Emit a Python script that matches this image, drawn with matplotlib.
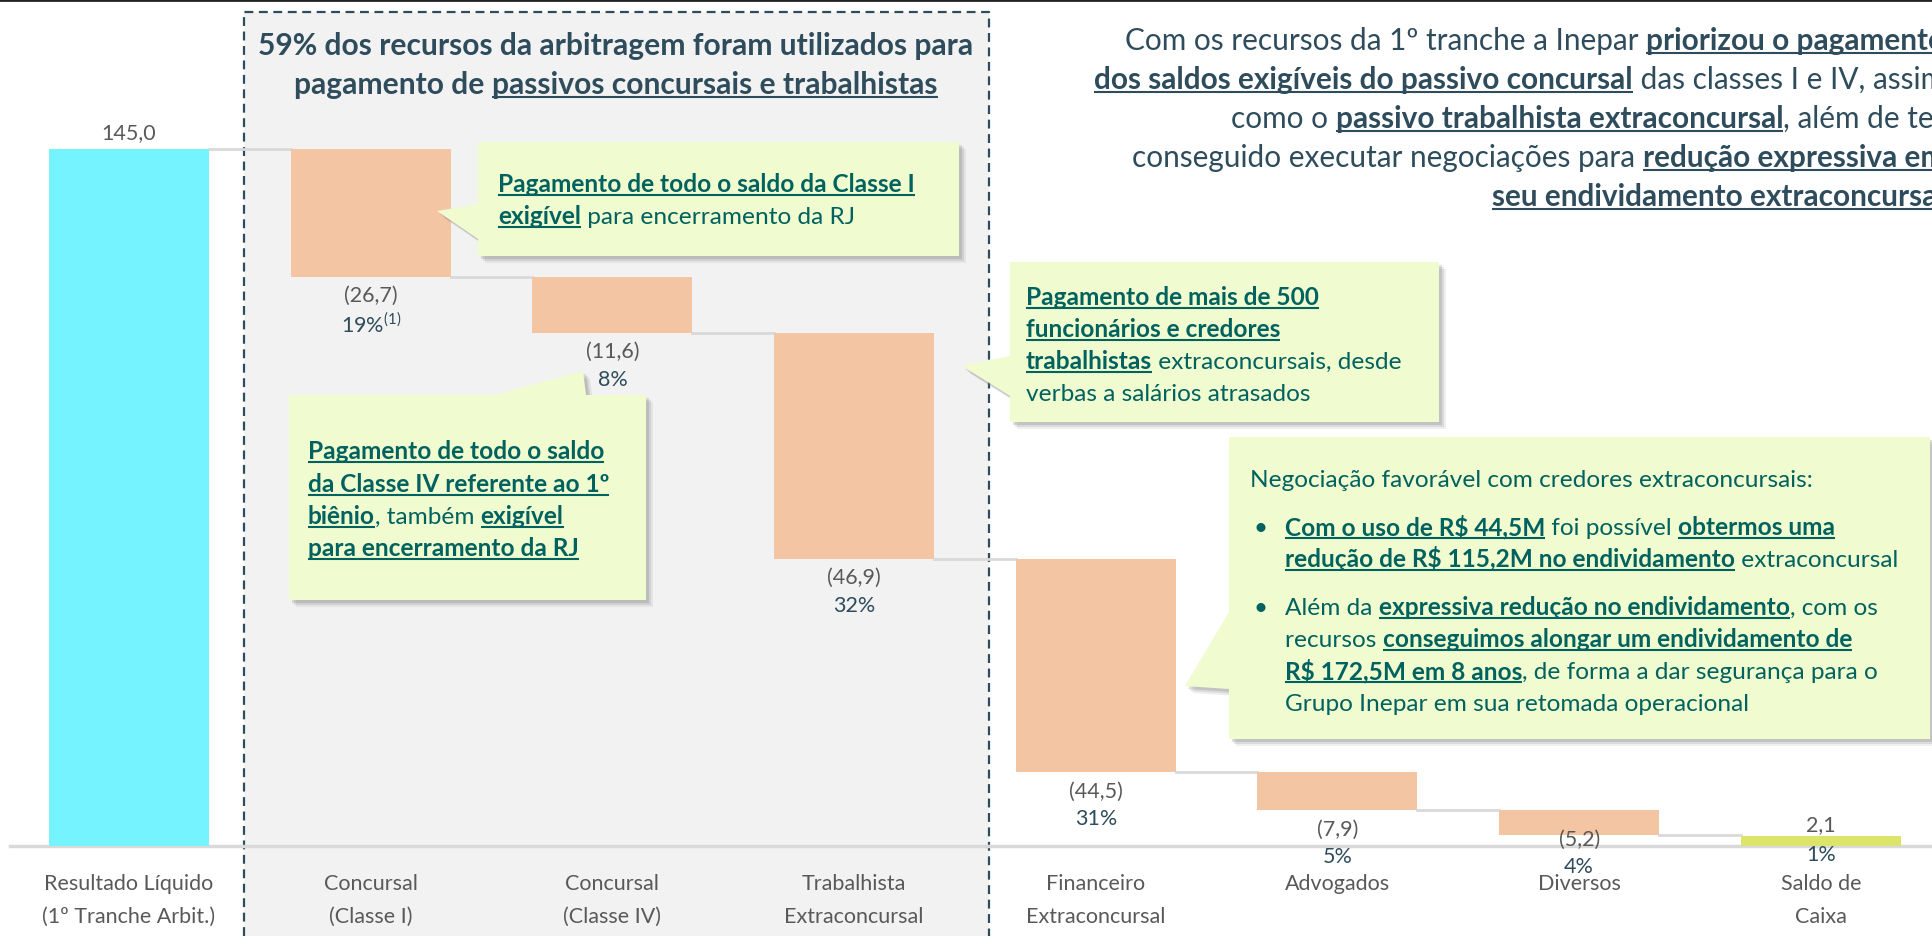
import matplotlib
matplotlib.use("Agg")
import matplotlib.pyplot as plt
from matplotlib.patches import Polygon, Rectangle

# chart data
categories = ["Resultado Líquido\n(1º Tranche Arbit.)", "Concursal\n(Classe I)", "Concursal\n(Classe IV)",
              "Trabalhista\nExtraconcursal", "Financeiro\nExtraconcursal", "Advogados", "Diversos",
              "Saldo de\nCaixa"]
values = [145.0, -26.7, -11.6, -46.9, -44.5, -7.9, -5.2, 2.1]
value_labels = ["145,0", "(26,7)", "(11,6)", "(46,9)", "(44,5)", "(7,9)", "(5,2)", "2,1"]
pct_labels = ["", "19%$^{(1)}$", "8%", "32%", "31%", "5%", "4%", "1%"]

W, H = 1933, 937
FONT = "Lato"
SLATE = "#2E4C5C"
TEAL = "#00625F"
GRAY = "#595959"

plt.rcParams["font.family"] = [FONT, "DejaVu Sans"]
plt.rcParams["mathtext.fontset"] = "custom"
plt.rcParams["mathtext.rm"] = FONT

fig = plt.figure(figsize=(W / 100, H / 100), dpi=100)
renderer = fig.canvas.get_renderer()

def pixel_axes(z):
    a = fig.add_axes([0, 0, 1, 1], zorder=z)
    a.set_xlim(0, W)
    a.set_ylim(H, 0)
    a.axis("off")
    a.patch.set_visible(False)
    return a

bg = pixel_axes(0)
ax = fig.add_axes([0, 0, 1, 1], zorder=1)
ax.patch.set_visible(False)
ax.axis("off")
ov = pixel_axes(2)

# shaded block + dashed frame
bg.add_patch(Rectangle((244, 13), 745, H, facecolor="#F2F2F2", edgecolor="none"))
bg.plot([244, 244, 989, 989], [H, 13, 13, H], color=SLATE, lw=1.6, ls=(0, (4, 2.5)))
bg.plot([0, W], [1, 1], color="#222222", lw=2)

# waterfall bars
ax.set_xlim(-0.534, 7.464)
ax.set_ylim(-18.72, 176.2)
bw = 0.662
running = 0.0
tops, bottoms = [], []
for i, v in enumerate(values):
    if i == 0 or i == len(values) - 1:
        b, t = 0, v
    else:
        b, t = running + v, running
    running = running + v if i != len(values) - 1 else running
    if i == 0:
        running = v
    bottoms.append(b)
    tops.append(t)
    color = "#F3C5A2"
    if i == 0:
        color = "#75F3FE"
    elif i == len(values) - 1:
        color = "#DDE46A"
    ax.bar(i, t - b, bottom=b, width=bw, color=color, zorder=2)

# connectors
level = values[0]
for i in range(len(values) - 1):
    ax.plot([i + bw / 2, i + 1 - bw / 2], [level, level], color="#D9D9D9", lw=2, zorder=1)
    level += values[i + 1]

ax.plot([10 / W * 7.998 - 0.534, 7.464], [0, 0], color="#D9D9D9", lw=2.5, zorder=1)

# labels
LS = 15.5
for i in range(len(values)):
    for j, part in enumerate(categories[i].split("\n")):
        ax.annotate(part, (i, 0), xytext=(0, -37 - 33 * j), textcoords="offset pixels",
                    ha="center", va="center", fontsize=LS, color=GRAY)
    if i == 0:
        ax.annotate(value_labels[i], (i, tops[i]), xytext=(0, 17), textcoords="offset pixels",
                    ha="center", va="center", fontsize=LS, color=GRAY)
        continue
    if i == len(values) - 1:
        vo, po = 12, -18
        ref = tops[i]
    elif categories[i] == "Diversos":
        vo, po = -3, -31
        ref = bottoms[i]
    else:
        vo, po = -18, -46
        ref = bottoms[i]
    ax.annotate(value_labels[i], (i, ref), xytext=(0, vo), textcoords="offset pixels",
                ha="center", va="center", fontsize=LS, color=GRAY)
    ax.annotate(pct_labels[i], (i, ref), xytext=(0, po), textcoords="offset pixels",
                ha="center", va="center", fontsize=LS, color=SLATE)


def text_width(s, size, bold):
    t1 = ov.text(0, 0, "|" + s + "|", fontsize=size, fontweight="bold" if bold else "normal",
                 parse_math=False)
    t2 = ov.text(0, 0, "||", fontsize=size, fontweight="bold" if bold else "normal",
                 parse_math=False)
    w = t1.get_window_extent(renderer).width - t2.get_window_extent(renderer).width
    t1.remove()
    t2.remove()
    return w


def runs_line(x, y, runs, size, color, ha="left"):
    ws = [text_width(r[0], size, r[1]) for r in runs]
    total = sum(ws)
    if ha == "right":
        x -= total
    elif ha == "center":
        x -= total / 2
    for (s, bold, ul), w in zip(runs, ws):
        ov.text(x, y, s, fontsize=size, fontweight="bold" if bold else "normal", color=color,
                va="baseline", ha="left", parse_math=False)
        if ul:
            ov.plot([x, x + w], [y + 3.5, y + 3.5], color=color, lw=1.5, solid_capstyle="butt")
        x += w


def callout(pts):
    for k, a in [(7, 0.12), (5, 0.18), (3, 0.25)]:
        ov.add_patch(Polygon([(px + k, py + k) for px, py in pts], closed=True,
                             facecolor="#7F7F7F", edgecolor="none", alpha=a))
    ov.add_patch(Polygon(pts, closed=True, facecolor="#F0FBD0", edgecolor="none"))


N, B = False, True

# title of the shaded block
runs_line(616, 55, [("59% dos recursos da arbitragem foram utilizados para", B, N)], 21.6, SLATE, "center")
runs_line(616, 94, [("pagamento de ", B, N), ("passivos concursais e trabalhistas", B, B)], 21.6, SLATE, "center")

# right paragraph
right_lines = [
    [("Com os recursos da 1º tranche a Inepar ", N, N), ("priorizou o pagamento", B, B)],
    [("dos saldos exigíveis do passivo concursal", B, B), (" das classes I e IV, assim", N, N)],
    [("como o ", N, N), ("passivo trabalhista extraconcursal", B, B), (", além de ter", N, N)],
    [("conseguido executar negociações para ", N, N), ("redução expressiva em", B, B)],
    [("seu endividamento extraconcursal", B, B)],
]
for k, line in enumerate(right_lines):
    runs_line(1945, 50 + 39 * k, line, 21.4, SLATE, "right")

CS = 17.6
# callout 1
callout([(478, 143), (959, 143), (959, 257), (478, 257), (478, 240), (437, 212), (478, 205)])
runs_line(498, 192, [("Pagamento de todo o saldo da Classe I", B, B)], CS, TEAL)
runs_line(498, 224, [("exigível", B, B), (" para encerramento da RJ", N, N)], CS, TEAL)

# callout 2
callout([(1010, 263), (1439, 263), (1439, 423), (1010, 423), (1010, 397), (962, 367), (1010, 357)])
runs_line(1026, 305, [("Pagamento de mais de 500", B, B)], CS, TEAL)
runs_line(1026, 337, [("funcionários e credores", B, B)], CS, TEAL)
runs_line(1026, 369, [("trabalhistas", B, B), (" extraconcursais, desde", N, N)], CS, TEAL)
runs_line(1026, 401, [("verbas a salários atrasados", N, N)], CS, TEAL)

# callout 3
callout([(1229, 438), (1930, 438), (1930, 740), (1229, 740), (1229, 690), (1185, 687), (1229, 613)])
runs_line(1250, 487, [("Negociação favorável com credores extraconcursais:", N, N)], CS, TEAL)
for yb in (535, 615):
    ov.text(1254, yb, "•", fontsize=CS, color=TEAL, va="baseline")
runs_line(1285, 535, [("Com o uso de R$ 44,5M", B, B), (" foi possível ", N, N), ("obtermos uma", B, B)], CS, TEAL)
runs_line(1285, 567, [("redução de R$ 115,2M no endividamento", B, B), (" extraconcursal", N, N)], CS, TEAL)
runs_line(1285, 615, [("Além da ", N, N), ("expressiva redução no endividamento", B, B), (", com os", N, N)], CS, TEAL)
runs_line(1285, 647, [("recursos ", N, N), ("conseguimos alongar um endividamento de", B, B)], CS, TEAL)
runs_line(1285, 679, [("R$ 172,5M em 8 anos", B, B), (", de forma a dar segurança para o", N, N)], CS, TEAL)
runs_line(1285, 711, [("Grupo Inepar em sua retomada operacional", N, N)], CS, TEAL)

# callout 4
callout([(289, 396), (495, 396), (583, 372), (586, 396), (646, 396), (646, 601), (289, 601)])
runs_line(308, 459, [("Pagamento de todo o saldo", B, B)], CS, TEAL)
runs_line(308, 492, [("da Classe IV referente ao 1º", B, B)], CS, TEAL)
runs_line(308, 524, [("biênio", B, B), (", também ", N, N), ("exigível", B, B)], CS, TEAL)
runs_line(308, 556, [("para encerramento da RJ", B, B)], CS, TEAL)

fig.savefig("out.png", dpi=100)
